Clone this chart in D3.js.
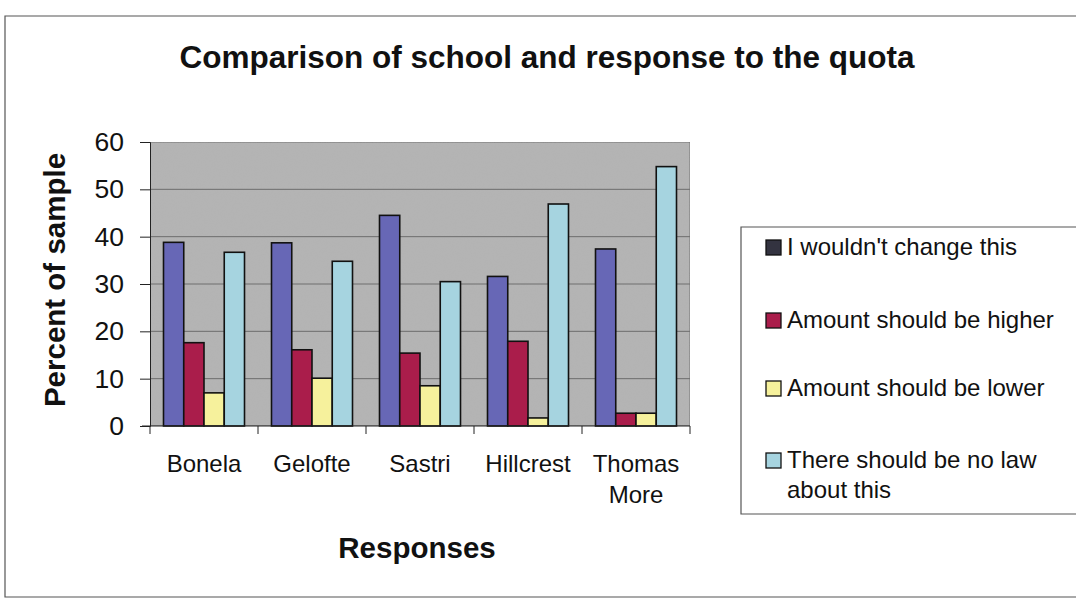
<!DOCTYPE html>
<html>
<head>
<meta charset="utf-8">
<script src="https://cdn.jsdelivr.net/npm/d3@7"></script>
<style>
  html, body { margin: 0; padding: 0; background: #ffffff; }
  svg { display: block; font-family: Arial, "Liberation Sans", sans-serif; }
</style>
</head>
<body>
<svg id="chart" width="1076" height="601"></svg>
<script>
// Schools along the x axis
const schools = ["Bonela", "Gelofte", "Sastri", "Hillcrest", "Thomas More"];

// Response series (percent of sample per school)
const seriesNames = [
  "I wouldn't change this",
  "Amount should be higher",
  "Amount should be lower",
  "There should be no law about this"
];
const wouldntChange = [38.8, 38.7, 44.5, 31.6, 37.4];
const shouldBeHigher = [17.6, 16.1, 15.4, 17.9, 2.7];
const shouldBeLower = [7.0, 10.1, 8.5, 1.7, 2.7];
const noLaw = [36.7, 34.8, 30.5, 46.9, 54.8];
const seriesValues = [wouldntChange, shouldBeHigher, shouldBeLower, noLaw];
const seriesColors = ["#6767b6", "#aa1d4b", "#f6f19c", "#a6d4e0"];

const yTicks = [0, 10, 20, 30, 40, 50, 60];

const svg = d3.select("#chart");

// Outer chart frame
svg.append("path")
  .attr("d", "M1076,16 H5 V597 H1076")
  .attr("fill", "none").attr("stroke", "#555").attr("stroke-width", 1.2);

const plot = { left: 150, right: 690, top: 142, bottom: 426 };

const x = d3.scaleBand().domain(schools)
  .range([plot.left, plot.right]).paddingInner(0.25).paddingOuter(0.125);
const xInner = d3.scaleBand().domain(d3.range(seriesNames.length))
  .range([0, x.bandwidth()]);
const y = d3.scaleLinear().domain([0, 60]).range([plot.bottom, plot.top]);

// Grainy grey plot background
const defs = svg.append("defs");
const f = defs.append("filter").attr("id", "grain").attr("x", 0).attr("y", 0).attr("width", 1).attr("height", 1);
f.append("feTurbulence").attr("type", "fractalNoise").attr("baseFrequency", 0.9).attr("numOctaves", 2).attr("seed", 3).attr("result", "n");
f.append("feColorMatrix").attr("in", "n").attr("type", "matrix")
  .attr("values", "0 0 0 0 0.5  0 0 0 0 0.5  0 0 0 0 0.5  0 0 0 0.18 0").attr("result", "g");
f.append("feComposite").attr("in", "g").attr("in2", "SourceGraphic").attr("operator", "in").attr("result", "gi");
f.append("feMerge").selectAll("feMergeNode").data(["SourceGraphic", "gi"]).join("feMergeNode").attr("in", d => d);

svg.append("rect")
  .attr("x", plot.left).attr("y", plot.top)
  .attr("width", plot.right - plot.left).attr("height", plot.bottom - plot.top)
  .attr("fill", "#b3b3b3").attr("stroke", "#6a6a6a").attr("stroke-width", 1)
  .attr("filter", "url(#grain)");

// Horizontal gridlines
svg.append("g").selectAll("line").data(yTicks.filter(t => t > 0 && t < 60)).join("line")
  .attr("x1", plot.left).attr("x2", plot.right)
  .attr("y1", d => y(d)).attr("y2", d => y(d))
  .attr("stroke", "#6e6e6e").attr("stroke-width", 1);

// Bars
const groups = svg.append("g").selectAll("g").data(schools).join("g")
  .attr("transform", d => `translate(${x(d)},0)`);
groups.selectAll("rect")
  .data((d, i) => seriesValues.map((vals, s) => ({ s, v: vals[i] })))
  .join("rect")
  .attr("x", d => xInner(d.s))
  .attr("width", xInner.bandwidth())
  .attr("y", d => y(d.v))
  .attr("height", d => y(0) - y(d.v))
  .attr("fill", d => seriesColors[d.s])
  .attr("stroke", "#111").attr("stroke-width", 1.6);

// Y axis
const yAxis = svg.append("g").attr("transform", `translate(${plot.left},0)`)
  .call(d3.axisLeft(y).tickValues(yTicks).tickSize(10).tickPadding(16));
yAxis.select(".domain").attr("stroke", "#222");
yAxis.selectAll(".tick line").attr("stroke", "#222");
yAxis.selectAll(".tick text").attr("font-size", 26.5).attr("fill", "#111")
  .attr("font-family", "Arial, 'Liberation Sans', sans-serif");

// X axis with ticks at category boundaries
const xAxisG = svg.append("g").attr("transform", `translate(0,${plot.bottom})`);
xAxisG.append("line").attr("x1", plot.left - 8).attr("x2", plot.right)
  .attr("stroke", "#222").attr("stroke-width", 1);
const boundaries = schools.map(s => x(s) - x.step() * x.paddingInner() / 2).concat([plot.right]);
xAxisG.selectAll(".bt").data(boundaries).join("line").attr("class", "bt")
  .attr("x1", d => d).attr("x2", d => d).attr("y1", 0).attr("y2", 8)
  .attr("stroke", "#222");

// Category labels (wrapped when long)
const catLabels = svg.append("g").selectAll("text").data(schools).join("text")
  .attr("x", d => x(d) + x.bandwidth() / 2)
  .attr("y", 472)
  .attr("text-anchor", "middle")
  .attr("font-size", 24).attr("fill", "#111");
catLabels.each(function (d) {
  const words = d.split(" ");
  const t = d3.select(this);
  words.forEach((w, i) => {
    t.append("tspan").attr("x", x(d) + x.bandwidth() / 2).attr("dy", i === 0 ? 0 : 31).text(w);
  });
});

// Titles
svg.append("text").attr("x", 547).attr("y", 68).attr("text-anchor", "middle")
  .attr("font-size", 31.5).attr("font-weight", "bold").attr("fill", "#111")
  .text("Comparison of school and response to the quota");
svg.append("text").attr("x", 417).attr("y", 558).attr("text-anchor", "middle")
  .attr("font-size", 29.5).attr("font-weight", "bold").attr("fill", "#111")
  .text("Responses");
svg.append("text")
  .attr("transform", `translate(65,280) rotate(-90)`)
  .attr("text-anchor", "middle")
  .attr("font-size", 29.5).attr("font-weight", "bold").attr("fill", "#111")
  .text("Percent of sample");

// Legend
const legend = svg.append("g");
legend.append("path").attr("d", "M1076,227 H741 V514 H1076")
  .attr("fill", "#fff").attr("stroke", "#555").attr("stroke-width", 1.2);
const legendLines = [
  ["I wouldn't change this"],
  ["Amount should be higher"],
  ["Amount should be lower"],
  ["There should be no law", "about this"]
];
const legendBaselines = [255, 328, 396, 468];
const legendSwatchColors = ["#333340", "#aa1d4b", "#f6f19c", "#a6d4e0"];
legendLines.forEach((lines, i) => {
  const b = legendBaselines[i];
  legend.append("rect").attr("x", 766).attr("y", b - 15).attr("width", 15).attr("height", 15)
    .attr("fill", legendSwatchColors[i]).attr("stroke", "#111").attr("stroke-width", 1.3);
  const t = legend.append("text").attr("x", 787).attr("y", b)
    .attr("font-size", 24).attr("fill", "#111");
  lines.forEach((ln, j) => {
    t.append("tspan").attr("x", 787).attr("dy", j === 0 ? 0 : 30).text(ln);
  });
});
</script>
</body>
</html>
